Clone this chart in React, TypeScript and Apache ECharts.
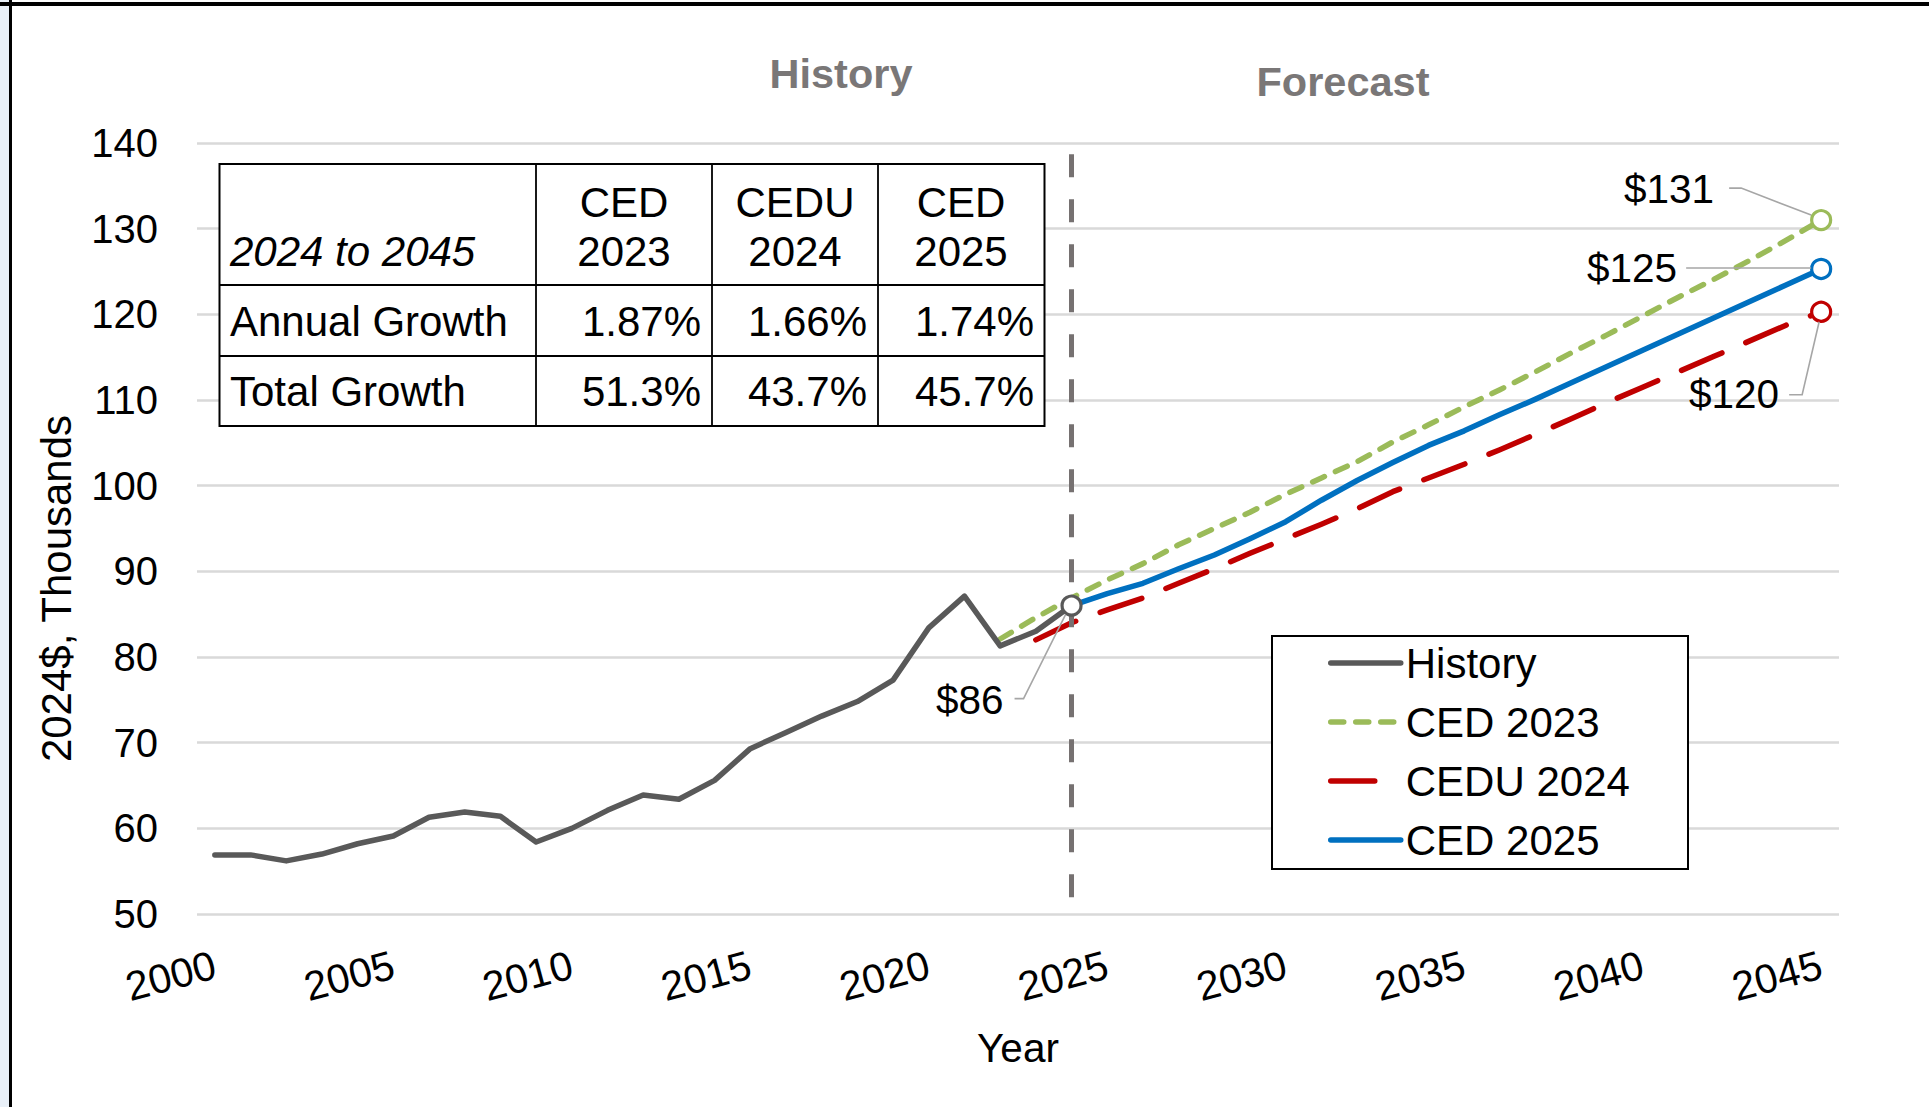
import React, { useEffect, useRef } from "react";
import * as echarts from "echarts";

const FONT = "'Liberation Sans', Arial, Helvetica, sans-serif";

// ---------- data ----------
const years = [
  "2000", "2001", "2002", "2003", "2004", "2005", "2006", "2007", "2008", "2009",
  "2010", "2011", "2012", "2013", "2014", "2015", "2016", "2017", "2018", "2019",
  "2020", "2021", "2022", "2023", "2024", "2025", "2026", "2027", "2028", "2029",
  "2030", "2031", "2032", "2033", "2034", "2035", "2036", "2037", "2038", "2039",
  "2040", "2041", "2042", "2043", "2044", "2045",
];

const historyStart = "2000";
const historyValues = [
  56.9, 56.9, 56.2, 57.0, 58.2, 59.1, 61.3, 61.9, 61.4, 58.4,
  60.0, 62.1, 63.9, 63.4, 65.6, 69.3, 71.2, 73.1, 74.8, 77.3,
  83.4, 87.1, 81.3, 83.0, 86.0,
];

const ced2023Start = "2022";
const ced2023Values = [
  82.1, 84.6, 86.9, 89.0, 90.9, 93.1, 95.0, 96.9, 99.0, 100.9,
  102.8, 105.1, 107.1, 109.2, 111.2, 113.3, 115.5, 117.6, 119.8, 122.0,
  124.1, 126.3, 128.6, 131.0,
];

const cedu2024Start = "2023";
const cedu2024Values = [
  82.0, 84.0, 85.5, 86.9, 88.6, 90.3, 92.1, 93.8, 95.5, 97.3,
  99.3, 100.9, 102.5, 104.2, 106.0, 107.8, 109.7, 111.5, 113.3, 115.1,
  116.9, 118.7, 120.3,
];

const ced2025Start = "2024";
const ced2025Values = [
  86.0, 87.4, 88.6, 90.3, 91.9, 93.8, 95.8, 98.3, 100.6, 102.7,
  104.7, 106.4, 108.3, 110.1, 112.0, 113.9, 115.8, 117.7, 119.6, 121.5,
  123.4, 125.3,
];

const dividerYear = "2024";

const tableCorner = "2024 to 2045";
const tableHeads = [["CED", "2023"], ["CEDU", "2024"], ["CED", "2025"]];
const tableRowLabels = ["Annual Growth", "Total Growth"];
const annualGrowth = ["1.87%", "1.66%", "1.74%"];
const totalGrowth = ["51.3%", "43.7%", "45.7%"];

const seriesNames = ["History", "CED 2023", "CEDU 2024", "CED 2025"];
const colors = ["#595959", "#9BBB59", "#C00000", "#0070C0"];

// ---------- helpers ----------
function pad(start: string, values: number[]) {
  const out: (number | null)[] = years.map(() => null);
  const s = years.indexOf(start);
  values.forEach((v, i) => {
    out[s + i] = v;
  });
  return out;
}

function withEndMarker(arr: (number | null)[], color: string) {
  let last = -1;
  arr.forEach((v, i) => {
    if (v !== null) last = i;
  });
  return arr.map((v, i) =>
    i === last
      ? {
          value: v,
          symbol: "circle",
          symbolSize: 19,
          itemStyle: { color: "#ffffff", borderColor: color, borderWidth: 3.2 },
        }
      : v
  );
}

function lastPoint(start: string, values: number[]) {
  const idx = years.indexOf(start) + values.length - 1;
  return { year: years[idx], value: values[values.length - 1] };
}

export default function App() {
  const ref = useRef<HTMLDivElement>(null);

  useEffect(() => {
    if (!ref.current) return;
    const chart = echarts.init(ref.current, null, { renderer: "svg" });

    const lineBase = (name: string, color: string, data: any[], type: any, cap: any, z: number) => ({
      type: "line",
      name,
      data,
      color,
      symbol: "none",
      showAllSymbol: true,
      z,
      lineStyle: { color, width: 5.5, type, cap, join: "round" },
      itemStyle: { color },
      emphasis: { disabled: true },
    });

    const option: any = {
      animation: false,
      backgroundColor: "#ffffff",
      textStyle: { fontFamily: FONT },
      grid: { left: 197, right: 90, top: 143, bottom: 193 },
      xAxis: {
        type: "category",
        data: years,
        boundaryGap: true,
        axisLine: { show: false },
        axisTick: { show: false },
        splitLine: { show: false },
        axisLabel: {
          interval: 4,
          rotate: 15,
          margin: 50,
          fontSize: 41,
          color: "#000",
          fontFamily: FONT,
        },
        name: "Year",
        nameLocation: "middle",
        nameGap: 113,
        nameTextStyle: { fontSize: 40.5, color: "#000", fontFamily: FONT },
      },
      yAxis: {
        type: "value",
        min: 50,
        max: 140,
        interval: 10,
        axisLine: { show: false },
        axisTick: { show: false },
        splitLine: { lineStyle: { color: "#d9d9d9", width: 2.5 } },
        axisLabel: { fontSize: 40, color: "#000", margin: 39, fontFamily: FONT },
        name: "2024$, Thousands",
        nameLocation: "middle",
        nameGap: 120,
        nameTextStyle: {
          fontSize: 42,
          color: "#000",
          fontFamily: FONT,
          padding: [0, 120, 0, 0],
        },
      },
      legend: {
        show: true,
        orient: "vertical",
        left: 1328,
        top: 641,
        padding: 0,
        itemWidth: 70,
        itemHeight: 14,
        itemGap: 15,
        selectedMode: false,
        z: 10,
        data: seriesNames,
        itemStyle: { opacity: 0 },
        lineStyle: { width: 5.5 },
        textStyle: { fontSize: 42, color: "#000", fontFamily: FONT, lineHeight: 44 },
      },
      series: [
        {
          ...lineBase(seriesNames[0], colors[0], withEndMarker(pad(historyStart, historyValues), colors[0]), "solid", "round", 5),
          markLine: {
            silent: true,
            symbol: "none",
            label: { show: false },
            lineStyle: { color: "#767171", width: 5, type: [23, 22] },
            data: [[{ coord: [dividerYear, 138.7] }, { coord: [dividerYear, 50] }]],
          },
        },
        lineBase(seriesNames[1], colors[1], withEndMarker(pad(ced2023Start, ced2023Values), colors[1]), [13, 12], "round", 3),
        lineBase(seriesNames[2], colors[2], withEndMarker(pad(cedu2024Start, cedu2024Values), colors[2]), [44, 26], "round", 3),
        lineBase(seriesNames[3], colors[3], withEndMarker(pad(ced2025Start, ced2025Values), colors[3]), "solid", "round", 4),
      ],
    };

    chart.setOption(option);

    // ----- annotations positioned through the chart's own scales -----
    const ends = [
      { ...lastPoint(historyStart, historyValues), dx: -68, dy: 94, leader: [[-57, 93], [-48, 93], [-6, 9]] },
      { ...lastPoint(ced2023Start, ced2023Values), dx: -107, dy: -31, leader: [[-92, -32], [-80, -32], [-10, -5]] },
      { ...lastPoint(ced2025Start, ced2025Values), dx: -144, dy: -1, leader: [[-135, -1], [-10, -1]] },
      { ...lastPoint(cedu2024Start, cedu2024Values), dx: -42, dy: 82, leader: [[-32, 83], [-19, 83], [-2, 10]] },
    ];

    const graphics: any[] = [];

    // frame
    graphics.push({ type: "rect", z: 20, shape: { x: 0, y: 0, width: 9, height: 1107 }, style: { fill: "#e9f0f8" } });
    graphics.push({ type: "rect", z: 21, shape: { x: 9, y: 0, width: 3, height: 1107 }, style: { fill: "#000" } });
    graphics.push({ type: "rect", z: 21, shape: { x: 0, y: 2, width: 1929, height: 4 }, style: { fill: "#000" } });

    // headers
    graphics.push({
      type: "text",
      z: 20,
      x: 841,
      y: 73,
      style: { text: "History", fontSize: 41.5, fontWeight: "bold", fontFamily: FONT, fill: "#7a7777", align: "center", verticalAlign: "middle" },
    });
    graphics.push({
      type: "text",
      z: 20,
      x: 1343,
      y: 81,
      style: { text: "Forecast", fontSize: 41.5, fontWeight: "bold", fontFamily: FONT, fill: "#7a7777", align: "center", verticalAlign: "middle" },
    });

    // table
    const tL = 219.5, tR = 1044.5, tT = 164, tB = 426;
    const rowLines = [285, 356];
    const colLines = [536, 712, 878];
    const colCenters = [624, 795, 961];
    const colRights = [701, 867, 1034];
    graphics.push({ type: "rect", z: 12, shape: { x: tL, y: tT, width: tR - tL, height: tB - tT }, style: { fill: "#fff", stroke: "#000", lineWidth: 2 } });
    rowLines.forEach((y) =>
      graphics.push({ type: "line", z: 13, shape: { x1: tL, y1: y, x2: tR, y2: y }, style: { stroke: "#000", lineWidth: 1.8 } })
    );
    colLines.forEach((x) =>
      graphics.push({ type: "line", z: 13, shape: { x1: x, y1: tT, x2: x, y2: tB }, style: { stroke: "#000", lineWidth: 1.8 } })
    );
    const tStyle = (text: string, align: string, extra: any = {}) => ({
      text,
      fontSize: 42,
      fontFamily: FONT,
      fill: "#000",
      align,
      verticalAlign: "middle",
      ...extra,
    });
    graphics.push({ type: "text", z: 14, x: 230, y: 251, style: tStyle(tableCorner, "left", { fontStyle: "italic" }) });
    tableHeads.forEach((h, i) => {
      graphics.push({ type: "text", z: 14, x: colCenters[i], y: 202, style: tStyle(h[0], "center") });
      graphics.push({ type: "text", z: 14, x: colCenters[i], y: 251, style: tStyle(h[1], "center") });
    });
    const rowYs = [321, 391];
    tableRowLabels.forEach((lab, r) => {
      graphics.push({ type: "text", z: 14, x: 230, y: rowYs[r], style: tStyle(lab, "left") });
      const vals = r === 0 ? annualGrowth : totalGrowth;
      vals.forEach((v, i) => {
        graphics.push({ type: "text", z: 14, x: colRights[i], y: rowYs[r], style: tStyle(v, "right") });
      });
    });

    // legend box
    graphics.push({ type: "rect", z: 3, shape: { x: 1272, y: 636, width: 416, height: 233 }, style: { fill: "#fff", stroke: "#000", lineWidth: 2 } });

    // end labels with leader lines
    ends.forEach((e) => {
      const p = chart.convertToPixel({ gridIndex: 0 }, [e.year, e.value]) as number[];
      const pts = e.leader.map((d) => [p[0] + d[0], p[1] + d[1]]);
      graphics.push({ type: "polyline", z: 6, shape: { points: pts }, style: { stroke: "#a6a6a6", lineWidth: 1.6, fill: null } });
      graphics.push({
        type: "text",
        z: 7,
        x: p[0] + e.dx,
        y: p[1] + e.dy,
        style: { text: "$" + Math.round(e.value), fontSize: 40.5, fontFamily: FONT, fill: "#000", align: "right", verticalAlign: "middle" },
      });
    });

    chart.setOption({ graphic: { elements: graphics } });

    return () => chart.dispose();
  }, []);

  return (
    <div
      ref={ref}
      style={{ position: "absolute", left: 0, top: 0, width: 1929, height: 1107, background: "#fff" }}
    />
  );
}
